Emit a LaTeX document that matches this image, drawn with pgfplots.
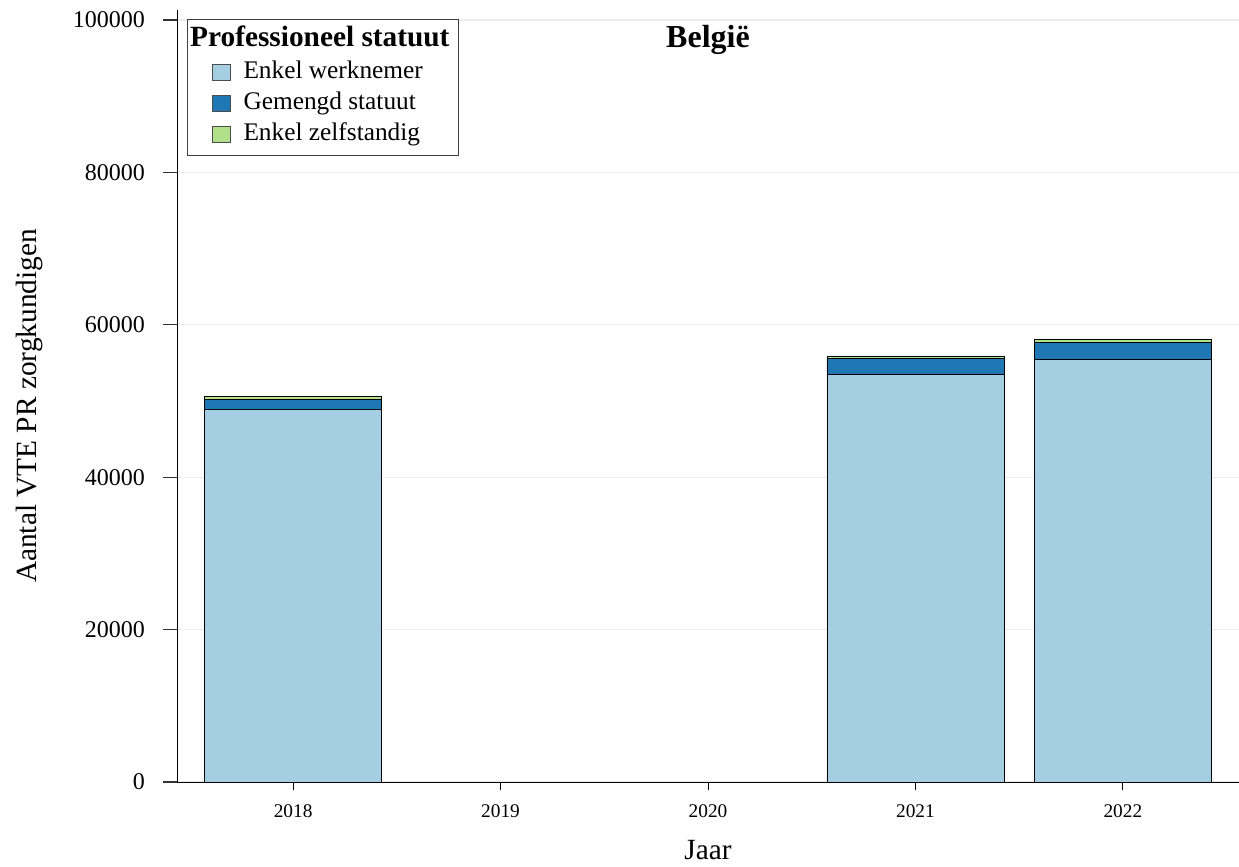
\documentclass[border=0pt]{standalone}
\usepackage{fontspec}
\setmainfont{Liberation Serif}
\usepackage{pgfplots}
\pgfplotsset{compat=1.18}
\definecolor{cA}{HTML}{A6CEE3}
\definecolor{cB}{HTML}{1F78B4}
\definecolor{cC}{HTML}{B2DF8A}
\pgfplotstableread{
x werknemer gemengd zelfstandig
0 48858 1400 400
3 53500 2050 350
4 55470 2180 420
}\datatable
\begin{document}
\begin{tikzpicture}
\useasboundingbox (-132.75pt,-63.75pt) rectangle (796.5pt,586.5pt);
\begin{axis}[
  scale only axis, width=796.5pt, height=579pt,
  xmin=-0.56, xmax=4.56, ymin=0, ymax=101312,
  ybar stacked, bar width=132.75pt,
  axis x line*=bottom, axis y line*=left,
  axis line style={black, line width=0.7pt},
  xtick={0,1,2,3,4}, xticklabels={2018,2019,2020,2021,2022},
  ytick={0,20000,40000,60000,80000,100000},
  scaled y ticks=false,
  yticklabel style={/pgf/number format/fixed, /pgf/number format/1000 sep={}, font=\fontsize{18}{20}\selectfont, xshift=-10pt},
  xticklabel style={font=\fontsize{14.5}{16}\selectfont, yshift=-3pt},
  /pgf/number format/assume math mode=true,
  tick align=outside, major tick length=10.5pt,
  xtick style={black, line width=0.7pt, /pgfplots/major tick length=6pt},
  ytick style={black!80, line width=0.8pt},
  ymajorgrids, grid style={black!8, line width=0.8pt},
  xlabel={Jaar}, ylabel={Aantal VTE PR zorgkundigen},
  xlabel style={font=\fontsize{22}{24}\selectfont, at={(axis description cs:0.5,-0.1)}, anchor=base},
  ylabel style={font=\fontsize{22}{24}\selectfont, at={(axis description cs:-0.1385,0.487)}, anchor=center},
  legend style={at={(rel axis cs:0.0094,0.988)}, anchor=north west,
    draw=black!75, line width=0.6pt, fill=white,
    font=\fontsize{19}{22}\selectfont,
    inner xsep=2pt, inner ysep=4pt,
    nodes={inner ysep=3pt, text height=13.5pt, text depth=4pt},
    cells={anchor=west}},
  mylegend/.style={legend image code/.code={\path (0pt,0pt) (37.5pt,0pt); \draw[##1, draw=black!70, line width=0.6pt] (16.5pt,-6pt) rectangle (30pt,6pt);}},
]
\addlegendimage{empty legend}
\addlegendentry{\hspace*{-40pt}\fontsize{22}{24}\selectfont\textbf{Professioneel statuut}\hspace*{3pt}}
\addplot[fill=cA, draw=black, line width=0.6pt, mylegend] table[x=x, y=werknemer] {\datatable};
\addlegendentry{Enkel werknemer}
\addplot[fill=cB, draw=black, line width=0.6pt, mylegend] table[x=x, y=gemengd] {\datatable};
\addlegendentry{Gemengd statuut}
\addplot[fill=cC, draw=black, line width=0.6pt, mylegend] table[x=x, y=zelfstandig] {\datatable};
\addlegendentry{Enkel zelfstandig}
\node[anchor=base, font=\fontsize{24}{26}\selectfont\bfseries] at (rel axis cs:0.5,0.952) {België};
\end{axis}
\end{tikzpicture}
\end{document}
